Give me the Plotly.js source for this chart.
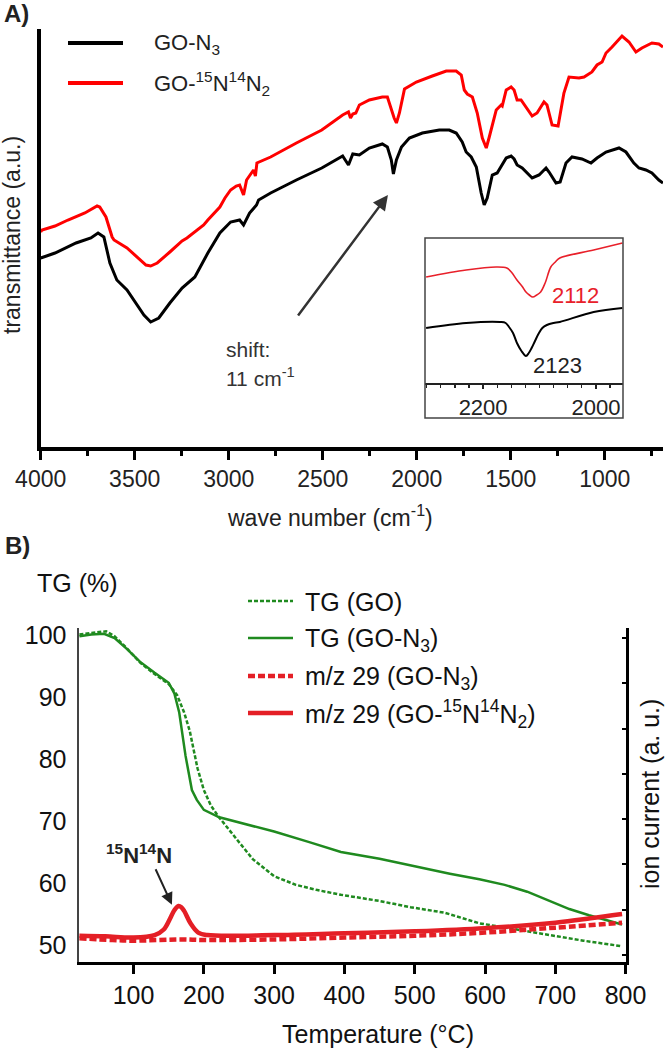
<!DOCTYPE html>
<html>
<head>
<meta charset="utf-8">
<script src="https://cdn.plot.ly/plotly-3.0.1.min.js"></script>
<style>html,body{margin:0;padding:0;background:#fff;}#chart{width:665px;height:1050px;}</style>
</head>
<body>
<div id="chart"></div>
<script>
// ---------- Panel A: FT-IR spectra (transmittance, arbitrary units) ----------
const irWnN3 = [4000,3924,3812,3733,3695,3664,3632,3595,3541,3451,3415,3372,3313,3248,3180,3111,3047,2990,2942,2921,2889,2852,2841,2777,2640,2505,2394,2363,2340,2305,2252,2183,2156,2135,2124,2108,2081,2039,1970,1880,1827,1790,1758,1737,1710,1683,1657,1641,1625,1614,1598,1572,1551,1524,1498,1482,1466,1439,1386,1349,1312,1296,1259,1237,1206,1174,1121,1073,1041,993,924,887,845,818,781,749,712,690];
const irTN3 = [189,194,204,209,214,210,184,167,157,132,125,129,144,159,170,194,214,225,227,222,234,242,247,254,267,279,291,282,293,292,299,303,300,287,273,287,300,309,314,317,317,314,305,295,290,280,254,242,249,260,272,274,280,289,291,288,282,279,269,272,279,275,264,265,284,290,288,284,289,295,299,295,284,279,277,274,267,264];
const irWn15N = [4000,3993,3924,3855,3765,3700,3686,3653,3620,3610,3541,3480,3440,3415,3380,3313,3248,3222,3133,3111,3047,3020,2990,2960,2942,2921,2905,2868,2858,2850,2777,2640,2505,2394,2363,2352,2340,2324,2305,2252,2183,2156,2135,2120,2108,2092,2065,2002,1917,1843,1790,1763,1747,1731,1704,1678,1651,1630,1614,1577,1551,1545,1524,1498,1482,1466,1445,1418,1386,1360,1323,1307,1280,1248,1217,1190,1137,1110,1068,1041,1014,993,961,908,871,834,802,749,712,690];
const irT15N = [215,217,221,227,234,241,240,230,210,207,199,189,182,181,184,195,206,209,222,227,240,249,257,261,262,252,267,277,271,284,290,304,317,332,335,329,333,334,342,347,350,350,337,329,324,334,358,365,371,376,376,372,357,353,350,334,309,299,310,337,342,341,357,360,357,347,347,340,331,334,345,342,322,321,354,370,369,370,375,382,385,394,400,411,405,395,399,404,403,400];

// ---------- Inset: azide band ----------
const insetWnN3 = [2301,2230,2170,2160,2154,2147,2140,2132,2124,2119,2114,2108,2101,2095,2087,2075,2064,2004,1953];
const insetTN3  = [55,60,61,60,56,50,40,32,27,30,35,42,50,55,58,60,61,71,75];
const insetWn15N = [2301,2230,2177,2158,2150,2140,2130,2124,2118,2112,2105,2098,2090,2080,2072,2064,2004,1953];
const insetT15N  = [106,113,116,115,111,103,96,91,88,86,88,91,100,116,121,125,133,140];
const insetTickVals = [2200, 2000];
const insetPeakLabels = ['2112', '2123'];

// ---------- Panel B: TG and MS ----------
const tgTempGO = [23,45,61,73,90,109,130,150,162,172,180,191,200,210,221,245,270,300,331,360,395,450,494,543,570,592,640,687,740,795];
const tgGO     = [100.1,100.4,100.6,99.8,97.9,95.6,93.7,92.1,90.3,87.5,84.5,78.5,75,72.5,70.7,67.3,63.8,61.1,59.7,58.9,58.1,57.1,56.1,55.2,54.2,53.5,52.6,51.7,50.7,49.8];
const tgTempN3 = [23,40,58,73,90,109,130,150,158,165,174,183,190,200,222,250,300,350,395,450,494,550,592,628,660,687,720,748,770,795];
const tgN3     = [99.8,100.1,100.2,99.5,97.8,95.7,93.9,92.3,90.6,87.5,80.5,75,73.4,71.8,70.6,69.8,68.3,66.6,65.0,63.9,62.8,61.5,60.6,59.7,58.6,57.3,55.8,54.8,54.1,53.3];
const msTempN3 = [23,70,100,170,200,300,400,500,600,700,795];
const msN3     = [51.1,50.8,50.7,50.9,50.8,50.9,51.2,51.5,52.0,52.8,53.6];
const msTemp15N = [23,60,100,130,143,153,158,164,168,172,181,192,205,300,400,500,600,700,750,795];
const ms15N     = [51.5,51.4,51.2,51.6,52.5,54.5,55.6,56.3,56.1,55.5,53.5,52.0,51.6,51.6,51.9,52.2,52.7,53.6,54.3,55.0];
const tgTickVals = [50,60,70,80,90,100];

// ---------- layout helpers (pixel -> paper) ----------
const W = 665, H = 1050;
const px = x => x / W;
const py = y => 1 - y / H;
const FONT = 'Liberation Sans, Arial, Helvetica, sans-serif';
const GREEN = '#1f8a1f';
const MSRED = '#e41f26';

const traces = [
  {x: irWnN3, y: irTN3, xaxis: 'x', yaxis: 'y', mode: 'lines', name: 'GO-N3',
   line: {color: '#000', width: 3}},
  {x: irWn15N, y: irT15N, xaxis: 'x', yaxis: 'y', mode: 'lines', name: 'GO-15N14N2',
   line: {color: '#ff0000', width: 3}},
  {x: insetWnN3, y: insetTN3, xaxis: 'x2', yaxis: 'y2', mode: 'lines', line: {color: '#000', width: 2, shape: 'spline'}},
  {x: insetWn15N, y: insetT15N, xaxis: 'x2', yaxis: 'y2', mode: 'lines', line: {color: '#e8202a', width: 1.6, shape: 'spline'}},
  {x: tgTempGO, y: tgGO, xaxis: 'x3', yaxis: 'y3', mode: 'lines', name: 'TG (GO)',
   line: {color: GREEN, width: 2.5, dash: '4px,2px'}},
  {x: tgTempN3, y: tgN3, xaxis: 'x3', yaxis: 'y3', mode: 'lines', name: 'TG (GO-N3)',
   line: {color: GREEN, width: 2.5}},
  {x: msTempN3, y: msN3, xaxis: 'x3', yaxis: 'y4', mode: 'lines', name: 'm/z 29 (GO-N3)',
   line: {color: MSRED, width: 4.5, dash: '7px,3px', shape: 'spline'}},
  {x: msTemp15N, y: ms15N, xaxis: 'x3', yaxis: 'y4', mode: 'lines', name: 'm/z 29 (GO-15N14N2)',
   line: {color: MSRED, width: 4.5, shape: 'spline'}}
];

const tgRange = [47.26, 101.13];

const layout = {
  width: W, height: H,
  margin: {l: 0, r: 0, t: 0, b: 0},
  paper_bgcolor: '#fff', plot_bgcolor: 'rgba(0,0,0,0)',
  showlegend: false,
  font: {family: FONT, color: '#222'},
  xaxis: {
    domain: [px(40.7), px(663)], anchor: 'y', range: [4000, 690],
    showline: true, linecolor: '#000', linewidth: 3.5, mirror: false,
    ticks: 'outside', ticklen: 9, tickwidth: 3, tickcolor: '#000',
    tick0: 0, dtick: 500,
    minor: {ticks: 'outside', ticklen: 5, tickwidth: 3, tickcolor: '#000', dtick: 250, tick0: 0, showgrid: false},
    tickfont: {size: 23, color: '#222', family: FONT},
    showgrid: false, zeroline: false
  },
  yaxis: {
    domain: [py(447), py(29)], anchor: 'x', range: [0, 418],
    showline: true, linecolor: '#000', linewidth: 3.5,
    ticks: '', showticklabels: false, showgrid: false, zeroline: false
  },
  xaxis2: {
    domain: [px(425), px(623)], anchor: 'y2', range: [2303, 1952],
    showline: true, linecolor: '#222', linewidth: 2,
    tickmode: 'array', tickvals: insetTickVals,
    ticks: 'outside', ticklen: 4, tickwidth: 1.5, tickcolor: '#222',
    minor: {ticks: 'outside', ticklen: 3, tickwidth: 1.2, tickcolor: '#222', dtick: 25, tick0: 2000},
    tickfont: {size: 22, color: '#222', family: FONT},
    showgrid: false, zeroline: false
  },
  yaxis2: {
    domain: [py(383), py(238)], anchor: 'x2', range: [0, 145], visible: false
  },
  xaxis3: {
    domain: [px(79), px(626)], anchor: 'y3', range: [22.4, 800.6],
    showline: true, linecolor: '#000', linewidth: 3,
    ticks: 'outside', ticklen: 9, tickwidth: 3, tickcolor: '#000',
    tick0: 0, dtick: 100,
    tickfont: {size: 25, color: '#111', family: FONT},
    showgrid: false, zeroline: false
  },
  yaxis3: {
    domain: [py(962), py(628)], anchor: 'x3', range: tgRange,
    showline: true, linecolor: '#444', linewidth: 2.5,
    tickmode: 'array', tickvals: tgTickVals, ticks: '', ticklabelstandoff: 5,
    tickfont: {size: 25, color: '#111', family: FONT},
    showgrid: false, zeroline: false
  },
  yaxis4: {
    overlaying: 'y3', side: 'right', anchor: 'x3', range: tgRange,
    showline: true, linecolor: '#000', linewidth: 3,
    ticks: 'inside', ticklen: 4, tickwidth: 2, tickcolor: '#000',
    tick0: 48.4, dtick: 7.3, showticklabels: false,
    showgrid: false, zeroline: false
  },
  shapes: [
    // inset frame
    {type: 'rect', xref: 'paper', yref: 'paper', x0: px(425), x1: px(623), y0: py(418), y1: py(238),
     line: {color: '#444', width: 1.5}, fillcolor: 'rgba(0,0,0,0)'},
    // legend A
    {type: 'line', xref: 'paper', yref: 'paper', x0: px(68), x1: px(123), y0: py(43), y1: py(43), line: {color: '#000', width: 4}},
    {type: 'line', xref: 'paper', yref: 'paper', x0: px(68), x1: px(123), y0: py(83), y1: py(83), line: {color: '#ff0000', width: 4}},
    // legend B
    {type: 'line', xref: 'paper', yref: 'paper', x0: px(248), x1: px(293), y0: py(601), y1: py(601), line: {color: GREEN, width: 2.5, dash: '4px,2px'}},
    {type: 'line', xref: 'paper', yref: 'paper', x0: px(248), x1: px(293), y0: py(638), y1: py(638), line: {color: GREEN, width: 2.5}},
    {type: 'line', xref: 'paper', yref: 'paper', x0: px(248), x1: px(293), y0: py(676), y1: py(676), line: {color: MSRED, width: 4.5, dash: '7px,3px'}},
    {type: 'line', xref: 'paper', yref: 'paper', x0: px(248), x1: px(293), y0: py(713), y1: py(713), line: {color: MSRED, width: 4.5}}
  ],
  annotations: [
    {text: '<b>A)</b>', xref: 'paper', yref: 'paper', x: px(2), y: py(14), xanchor: 'left', yanchor: 'middle', showarrow: false, font: {size: 24, color: '#222', family: FONT}},
    {text: '<b>B)</b>', xref: 'paper', yref: 'paper', x: px(3), y: py(545), xanchor: 'left', yanchor: 'middle', showarrow: false, font: {size: 24, color: '#222', family: FONT}},
    {text: 'GO-N<sub>3</sub>', xref: 'paper', yref: 'paper', x: px(152), y: py(44), xanchor: 'left', yanchor: 'middle', showarrow: false, font: {size: 22, color: '#222', family: FONT}},
    {text: 'GO-<sup>15</sup>N<sup>14</sup>N<sub>2</sub>', xref: 'paper', yref: 'paper', x: px(152), y: py(84), xanchor: 'left', yanchor: 'middle', showarrow: false, font: {size: 22, color: '#222', family: FONT}},
    {text: 'transmittance (a.u.)', xref: 'paper', yref: 'paper', x: px(12), y: py(235), xanchor: 'center', yanchor: 'middle', textangle: -90, showarrow: false, font: {size: 23, color: '#222', family: FONT}},
    {text: 'wave number (cm<sup>-1</sup>)', xref: 'paper', yref: 'paper', x: px(330), y: py(516), xanchor: 'center', yanchor: 'middle', showarrow: false, font: {size: 23, color: '#222', family: FONT}},
    {text: 'shift:', xref: 'paper', yref: 'paper', x: px(224), y: py(349), xanchor: 'left', yanchor: 'middle', showarrow: false, font: {size: 21, color: '#333', family: FONT}},
    {text: '11 cm<sup>-1</sup>', xref: 'paper', yref: 'paper', x: px(224), y: py(377), xanchor: 'left', yanchor: 'middle', showarrow: false, font: {size: 21, color: '#333', family: FONT}},
    {text: '', xref: 'x', yref: 'y', x: 2153, y: 252, ax: -91, ay: 122, showarrow: true, arrowhead: 2, arrowsize: 1.2, arrowwidth: 2.5, arrowcolor: '#333'},
    {text: insetPeakLabels[0], xref: 'x2', yref: 'y2', x: 2037, y: 88, xanchor: 'center', yanchor: 'middle', showarrow: false, font: {size: 22, color: '#e8202a', family: FONT}},
    {text: insetPeakLabels[1], xref: 'x2', yref: 'y2', x: 2068, y: 18, xanchor: 'center', yanchor: 'middle', showarrow: false, font: {size: 22, color: '#222', family: FONT}},
    {text: 'TG (%)', xref: 'paper', yref: 'paper', x: px(77), y: py(583), xanchor: 'center', yanchor: 'middle', showarrow: false, font: {size: 25, color: '#111', family: FONT}},
    {text: 'TG (GO)', xref: 'paper', yref: 'paper', x: px(303), y: py(602), xanchor: 'left', yanchor: 'middle', showarrow: false, font: {size: 25, color: '#111', family: FONT}},
    {text: 'TG (GO-N<sub>3</sub>)', xref: 'paper', yref: 'paper', x: px(303), y: py(640), xanchor: 'left', yanchor: 'middle', showarrow: false, font: {size: 25, color: '#111', family: FONT}},
    {text: 'm/z 29 (GO-N<sub>3</sub>)', xref: 'paper', yref: 'paper', x: px(303), y: py(678), xanchor: 'left', yanchor: 'middle', showarrow: false, font: {size: 25, color: '#111', family: FONT}},
    {text: 'm/z 29 (GO-<sup>15</sup>N<sup>14</sup>N<sub>2</sub>)', xref: 'paper', yref: 'paper', x: px(303), y: py(714), xanchor: 'left', yanchor: 'middle', showarrow: false, font: {size: 25, color: '#111', family: FONT}},
    {text: 'ion current (a. u.)', xref: 'paper', yref: 'paper', x: px(650), y: py(794), xanchor: 'center', yanchor: 'middle', textangle: -90, showarrow: false, font: {size: 25, color: '#111', family: FONT}},
    {text: 'Temperature (°C)', xref: 'paper', yref: 'paper', x: px(378), y: py(1034), xanchor: 'center', yanchor: 'middle', showarrow: false, font: {size: 25, color: '#111', family: FONT}},
    {text: '<b><sup>15</sup>N<sup>14</sup>N</b>', xref: 'x3', yref: 'y3', x: 107.7, y: 64.7, xanchor: 'center', yanchor: 'middle', showarrow: false, font: {size: 22, color: '#222', family: FONT}},
    {text: '', xref: 'x3', yref: 'y3', x: 154.6, y: 56.5, ax: -17, ay: -37, showarrow: true, arrowhead: 2, arrowsize: 1.2, arrowwidth: 2, arrowcolor: '#222'}
  ]
};

Plotly.newPlot('chart', traces, layout, {staticPlot: true, displayModeBar: false});
</script>
</body>
</html>
